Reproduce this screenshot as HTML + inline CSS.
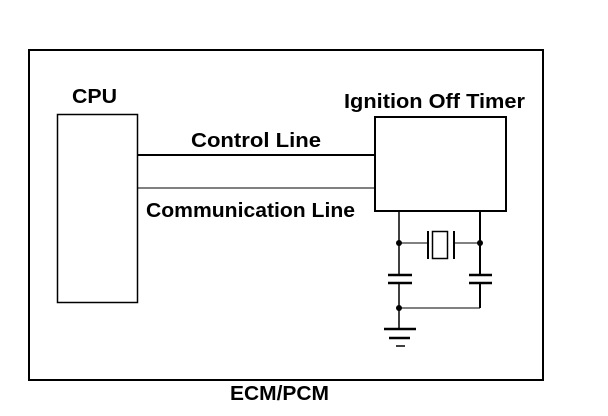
<!DOCTYPE html>
<html><head><style>html,body{margin:0;padding:0;background:#fff;}svg{display:block}</style></head>
<body>
<svg width="608" height="416" viewBox="0 0 608 416" xmlns="http://www.w3.org/2000/svg" font-family="Liberation Sans, Arial, sans-serif" font-weight="bold" font-size="20">
<rect x="29" y="50" width="514" height="330" fill="none" stroke="#000" stroke-width="2"/>
<rect x="57.5" y="114.5" width="80" height="188" fill="none" stroke="#000" stroke-width="1.5"/>
<rect x="375" y="117" width="131" height="94" fill="none" stroke="#000" stroke-width="2"/>
<line x1="137" y1="155" x2="375" y2="155" stroke="#000" stroke-width="2"/>
<line x1="137" y1="188" x2="375" y2="188" stroke="#000" stroke-width="1"/>
<text x="72" y="103" textLength="45" lengthAdjust="spacingAndGlyphs">CPU</text>
<text x="344" y="108" textLength="181" lengthAdjust="spacingAndGlyphs">Ignition Off Timer</text>
<text x="191" y="147" textLength="130" lengthAdjust="spacingAndGlyphs">Control Line</text>
<text x="146" y="217" textLength="209" lengthAdjust="spacingAndGlyphs">Communication Line</text>
<text x="230" y="400" textLength="99" lengthAdjust="spacingAndGlyphs">ECM/PCM</text>
<g stroke="#000" fill="none">
<line x1="399" y1="211" x2="399" y2="275" stroke-width="1.5"/>
<line x1="399" y1="283" x2="399" y2="329" stroke-width="1.5"/>
<line x1="480" y1="211" x2="480" y2="275" stroke-width="2"/>
<line x1="480" y1="283" x2="480" y2="308" stroke-width="2"/>
<line x1="399" y1="243" x2="428" y2="243" stroke-width="1"/>
<line x1="454" y1="243" x2="480" y2="243" stroke-width="1"/>
<line x1="428" y1="231" x2="428" y2="259" stroke-width="2"/>
<line x1="454" y1="231" x2="454" y2="259" stroke-width="2"/>
<rect x="432.5" y="231.5" width="15" height="27" stroke-width="1.5"/>
<line x1="388" y1="275" x2="412" y2="275" stroke-width="2.5"/>
<line x1="388" y1="283" x2="412" y2="283" stroke-width="2.5"/>
<line x1="469" y1="275" x2="492" y2="275" stroke-width="2.5"/>
<line x1="469" y1="283" x2="492" y2="283" stroke-width="2.5"/>
<line x1="399" y1="308" x2="480" y2="308" stroke-width="1"/>
<line x1="384" y1="329" x2="416" y2="329" stroke-width="2.5"/>
<line x1="389" y1="338" x2="410" y2="338" stroke-width="2.5"/>
<line x1="396" y1="346" x2="405" y2="346" stroke-width="1.5"/>
</g>
<circle cx="399" cy="243" r="3"/>
<circle cx="480" cy="243" r="3"/>
<circle cx="399" cy="308" r="3"/>
</svg>
</body></html>
